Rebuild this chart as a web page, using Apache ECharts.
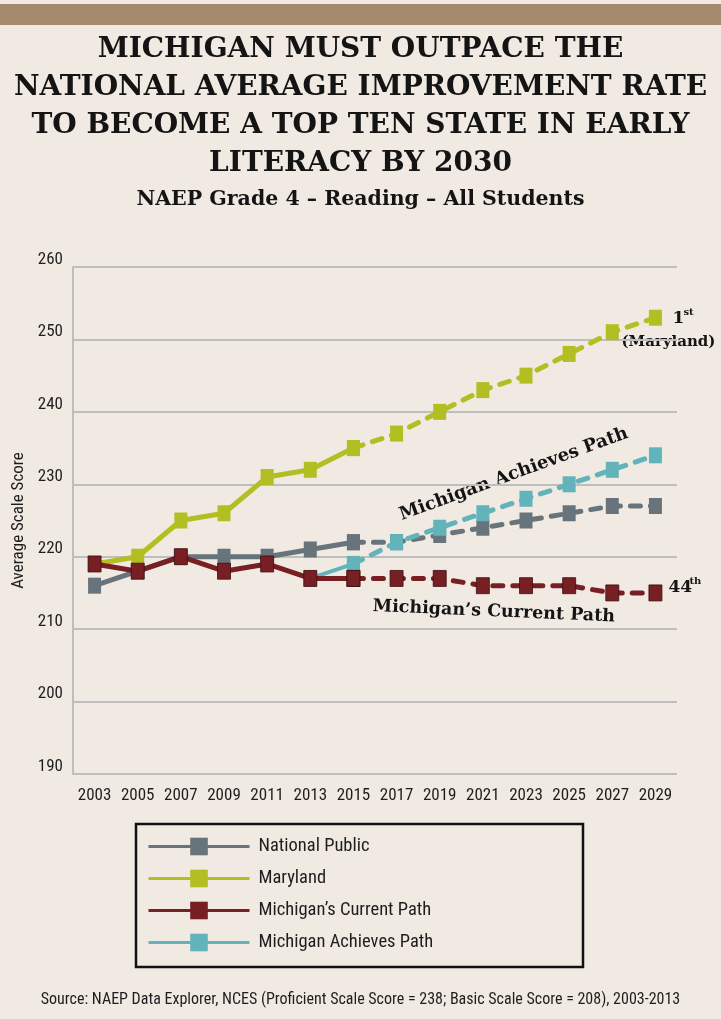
<!DOCTYPE html>
<html>
<head>
<meta charset="utf-8">
<script src="https://cdn.jsdelivr.net/npm/echarts@6/dist/echarts.min.js"></script>
<style>
  html, body { margin: 0; padding: 0; background: #F0EAE3; }
  #chart { width: 721px; height: 1019px; }
</style>
</head>
<body>
<div id="chart"></div>
<script>
// NAEP Grade 4 Reading, average scale scores (2003-2015 observed, 2015-2029 projected)
const years = ['2003','2005','2007','2009','2011','2013','2015','2017','2019','2021','2023','2025','2027','2029'];

const nationalActual      = [216, 218, 220, 220, 220, 221, 222];            // 2003-2015
const nationalProjected   = [222, 222, 223, 224, 225, 226, 227, 227];       // 2015-2029
const marylandActual      = [219, 220, 225, 226, 231, 232, 235];            // 2003-2015
const marylandProjected   = [235, 237, 240, 243, 245, 248, 251, 253];       // 2015-2029
const currentActual       = [219, 218, 220, 218, 219, 217, 217];            // 2003-2015
const currentProjected    = [217, 217, 217, 216, 216, 216, 215, 215];       // 2015-2029
const achievesActual      = [217, 219];                                     // 2013-2015
const achievesProjected   = [219, 222, 224, 226, 228, 230, 232, 234];       // 2015-2029

const yTicks = { min: 190, max: 260, step: 10 };

const seriesNames = ['National Public', 'Maryland', 'Michigan\u2019s Current Path', 'Michigan Achieves Path'];
const colors = {
  'National Public': '#68747B',
  'Maryland': '#B3BE22',
  'Michigan\u2019s Current Path': '#781F24',
  'Michigan Achieves Path': '#63B3BA'
};

const titleLines = [
  'MICHIGAN MUST OUTPACE THE',
  'NATIONAL AVERAGE IMPROVEMENT RATE',
  'TO BECOME A TOP TEN STATE IN EARLY',
  'LITERACY BY 2030'
];
const subtitle = 'NAEP Grade 4 \u2013 Reading \u2013 All Students';
const sourceNote = 'Source: NAEP Data Explorer, NCES (Proficient Scale Score = 238; Basic Scale Score = 208), 2003-2013';

const SERIF = '"DejaVu Serif", serif';
const NARROW = 'Roboto Condensed';
const INK = '#141414';

function serifFont(size) { return 'bold ' + size + 'px ' + SERIF; }

// place a run of values on the year axis starting at a given year index
function placeAt(startIdx, values) {
  const out = years.map(() => null);
  values.forEach((v, i) => { out[startIdx + i] = v; });
  return out;
}

const idx2013 = years.indexOf('2013');
const idx2015 = years.indexOf('2015');

function markerStyle(name) {
  const s = { color: colors[name] };
  if (name === seriesNames[2]) { s.borderColor = '#3c0f12'; s.borderWidth = 0.8; }
  return s;
}
function solidSeries(name, data, width, z) {
  return {
    name: name, type: 'line', data: data, z: z,
    symbol: 'rect', symbolSize: [13, 16], showAllSymbol: true,
    lineStyle: { color: colors[name], width: width },
    itemStyle: markerStyle(name),
    connectNulls: false, silent: true
  };
}
function dashedSeries(name, data, z) {
  return {
    name: name, type: 'line', data: data, z: z,
    symbol: 'rect', symbolSize: [13, 16], showAllSymbol: true,
    lineStyle: { color: colors[name], width: 5, type: [10, 10], cap: 'round' },
    itemStyle: markerStyle(name),
    connectNulls: false, silent: true
  };
}

const chart = echarts.init(document.getElementById('chart'), null, { renderer: 'canvas' });

// static decoration: top band, title block, legend frame, source line
const staticGraphics = [
  { type: 'rect', x: 0, y: 4, shape: { width: 721, height: 21 }, style: { fill: '#A68A6E' }, silent: true },
  { type: 'rect', x: 136, y: 824, shape: { width: 447, height: 143 },
    style: { fill: 'none', stroke: '#111111', lineWidth: 2.5 }, silent: true },
  { type: 'text', x: 360.5, y: 199.5, silent: true,
    style: { text: subtitle, font: serifFont(20.5), fill: INK,
             textAlign: 'center', textVerticalAlign: 'middle' } },
  { type: 'text', x: 360.5, y: 1000, silent: true,
    style: { text: sourceNote, fontFamily: NARROW, fontSize: 16, fill: '#1e1e1e',
             textAlign: 'center', textVerticalAlign: 'middle' } }
].concat(titleLines.map((line, i) => ({
  type: 'text', x: 360.5, y: 49.5 + i * 38, silent: true,
  style: { text: line, font: serifFont(28), fill: INK,
           textAlign: 'center', textVerticalAlign: 'middle' }
})));

const option = {
  backgroundColor: '#F0EAE3',
  animation: false,
  grid: { left: 73, right: 44, top: 267, bottom: 245 },
  xAxis: {
    type: 'category',
    data: years,
    boundaryGap: true,
    axisLine: { show: false },
    axisTick: { show: false },
    axisLabel: { fontFamily: NARROW, fontSize: 17, color: '#1e1e1e', margin: 13, interval: 0 }
  },
  yAxis: {
    type: 'value',
    min: yTicks.min, max: yTicks.max, interval: yTicks.step,
    name: 'Average Scale Score',
    nameLocation: 'middle', nameGap: 45, nameRotate: 90,
    nameTextStyle: { fontFamily: NARROW, fontSize: 17, color: '#1e1e1e' },
    axisLine: { show: true, lineStyle: { color: '#BEBEBE', width: 2 } },
    axisTick: { show: false },
    splitLine: { show: true, lineStyle: { color: '#BEBEBE', width: 2 } },
    axisLabel: { fontFamily: NARROW, fontSize: 17, color: '#1e1e1e', margin: 10,
                 verticalAlign: 'bottom', lineHeight: 15 }
  },
  legend: {
    data: seriesNames,
    orient: 'vertical',
    left: 147, top: 837, padding: 0,
    itemWidth: 101, itemHeight: 22, itemGap: 13,
    lineStyle: { width: 3 },
    itemStyle: { borderWidth: 0 },
    textStyle: { fontFamily: NARROW, fontSize: 18.5, color: '#1e1e1e', padding: [0, 0, 0, 4] },
    selectedMode: false
  },
  graphic: staticGraphics,
  series: [
    solidSeries(seriesNames[0], placeAt(0, nationalActual), 5, 2),
    dashedSeries(seriesNames[0], placeAt(idx2015, nationalProjected), 2),
    solidSeries(seriesNames[1], placeAt(0, marylandActual), 5, 3),
    dashedSeries(seriesNames[1], placeAt(idx2015, marylandProjected), 3),
    solidSeries(seriesNames[3], placeAt(idx2013, achievesActual), 4, 4),
    dashedSeries(seriesNames[3], placeAt(idx2015, achievesProjected), 4),
    solidSeries(seriesNames[2], placeAt(0, currentActual), 5, 5),
    dashedSeries(seriesNames[2], placeAt(idx2015, currentProjected), 5)
  ]
};

chart.setOption(option);

// Annotations anchored to points on the projected paths
const last = years.length - 1;
const idx2021 = years.indexOf('2021');
const mdEnd = chart.convertToPixel({ gridIndex: 0 }, [last, marylandProjected[marylandProjected.length - 1]]);
const miEnd = chart.convertToPixel({ gridIndex: 0 }, [last, currentProjected[currentProjected.length - 1]]);
const achAnchor = chart.convertToPixel({ gridIndex: 0 }, [idx2021, achievesProjected[idx2021 - idx2015]]);
const curAnchor = chart.convertToPixel({ gridIndex: 0 }, [idx2021, currentProjected[idx2021 - idx2015]]);

function anno(text, x, y, size, align, rotationDeg) {
  return {
    type: 'text', x: x, y: y, silent: true,
    rotation: (rotationDeg || 0) * Math.PI / 180,
    style: { text: text, font: serifFont(size), fill: INK,
             textAlign: align, textVerticalAlign: 'middle' }
  };
}

chart.setOption({
  graphic: staticGraphics.concat([
    anno('1', mdEnd[0] + 17, mdEnd[1] + 1, 17, 'left'),
    anno('st', mdEnd[0] + 28, mdEnd[1] - 5, 10, 'left'),
    anno('(Maryland)', mdEnd[0] + 13, mdEnd[1] + 24, 15, 'center'),
    anno('44', miEnd[0] + 13, miEnd[1] - 5, 17, 'left'),
    anno('th', miEnd[0] + 34, miEnd[1] - 12, 10, 'left'),
    anno('Michigan Achieves Path', achAnchor[0] + 31, achAnchor[1] - 39, 18, 'center', 20),
    anno('Michigan\u2019s Current Path', curAnchor[0] + 11, curAnchor[1] + 26, 17.5, 'center', -2.5)
  ])
});
</script>
</body>
</html>
